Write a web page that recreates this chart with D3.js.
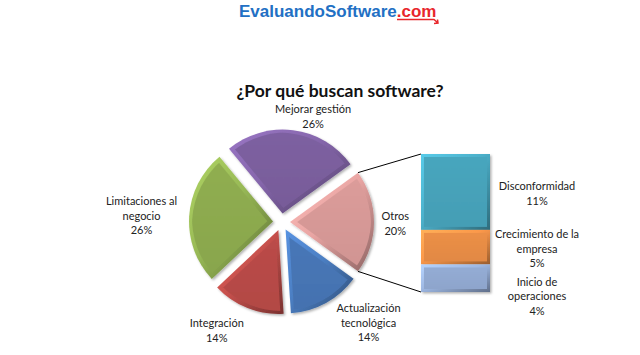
<html>
<head>
  <meta charset="utf-8">
  <title>Por qué buscan software</title>
  <script src="https://cdn.jsdelivr.net/npm/d3@7"></script>
</head>
<style>
  body { margin: 0; background: #fff; }
  svg { display: block; font-family: Lato, "Liberation Sans", sans-serif; }
  .lbl { font-size: 11px; fill: #222; text-anchor: middle; }
  .logo { font-family: "Liberation Sans", Arial, sans-serif; font-weight: bold; font-size: 17px; }
</style>
<body>
  <div id="chart"></div>
</body>
<script>
  // datos del pastel
  const pieNames = [["Otros"], ["Actualización", "tecnológica"], ["Integración"],
                    ["Limitaciones al", "negocio"], ["Mejorar gestión"]];
  const pieValues = [20, 14, 14, 26, 26];
  const pieColors = ["#d99a98", "#4776b6", "#b94b48", "#8eac50", "#7c5f9f"];

  // desglose de "Otros"
  const barNames = [["Disconformidad"], ["Crecimiento de la", "empresa"], ["Inicio de", "operaciones"]];
  const barValues = [11, 5, 4];
  const barColors = ["#47a4bc", "#ea8e46", "#93abd3"];

  let width = 640, height = 355;
  let cx = 281.5, cy = 222, r = 84, explode = 8.5;

  let svg = d3.select("#chart").append("svg")
    .attr("width", width)
    .attr("height", height);

  let defs = svg.append("defs");
  defs.append("filter").attr("id", "erode")
    .append("feMorphology").attr("operator", "erode").attr("radius", 2.5);
  let sh = defs.append("filter").attr("id", "shadow")
    .attr("x", "-20%").attr("y", "-20%").attr("width", "140%").attr("height", "140%");
  sh.append("feDropShadow").attr("dx", 1.5).attr("dy", 1.5).attr("stdDeviation", 1.2)
    .attr("flood-color", "#000").attr("flood-opacity", 0.3);

  function grads(id, c) {
    let base = d3.color(c);
    let rim = defs.append("linearGradient").attr("id", "rim" + id)
      .attr("x1", 0).attr("y1", 0).attr("x2", 1).attr("y2", 1);
    rim.append("stop").attr("offset", 0).attr("stop-color", base.brighter(0.6));
    rim.append("stop").attr("offset", 0.45).attr("stop-color", base.brighter(0.2));
    rim.append("stop").attr("offset", 1).attr("stop-color", base.darker(1.2));
    let main = defs.append("linearGradient").attr("id", "main" + id)
      .attr("x1", 0).attr("y1", 0).attr("x2", 0).attr("y2", 1);
    main.append("stop").attr("offset", 0).attr("stop-color", base.brighter(0.05));
    main.append("stop").attr("offset", 1).attr("stop-color", base.darker(0.1));
  }
  pieColors.forEach((c, i) => grads("p" + i, c));
  barColors.forEach((c, i) => grads("b" + i, c));

  // logo
  let logo = svg.append("text").attr("class", "logo")
    .attr("x", 239).attr("y", 17);
  logo.append("tspan").attr("fill", "#2270c4").text("EvaluandoSoftware");
  logo.append("tspan").attr("fill", "#e8262b").text(".com");
  svg.append("path")
    .attr("d", "M397,19.5 L434,19.5 L438,23 M434,23.5 L438,23 L437.5,19.5")
    .attr("fill", "none").attr("stroke", "#e8262b").attr("stroke-width", 1.5);

  // título
  svg.append("text")
    .attr("x", 340).attr("y", 97)
    .attr("text-anchor", "middle")
    .style("font-weight", "bold").style("font-size", "17.5px").style("fill", "#111")
    .text("¿Por qué buscan software?");

  // pastel
  let pie = d3.pie().sort(null)
    .startAngle(0.3 * Math.PI).endAngle(2.3 * Math.PI);
  let arcs = pie(pieValues);
  let arc = d3.arc().innerRadius(0).outerRadius(r);

  function shift(d, k) {
    let a = (d.startAngle + d.endAngle) / 2;
    return [k * Math.sin(a), -k * Math.cos(a)];
  }

  let g = svg.append("g").attr("transform", `translate(${cx},${cy})`);
  let slices = g.selectAll("g.slice").data(arcs).enter().append("g")
    .attr("class", "slice")
    .attr("filter", "url(#shadow)")
    .attr("transform", d => `translate(${shift(d, explode)})`);
  slices.append("path").attr("d", arc).attr("fill", (d, i) => `url(#rimp${i})`);
  slices.append("path").attr("d", arc).attr("fill", (d, i) => `url(#mainp${i})`)
    .attr("filter", "url(#erode)");

  // etiquetas del pastel (ajuste fino tipo "best fit")
  let nudge = [[0, 2], [22, -6], [-17, 2], [0, 2], [14, 9]];
  let lineH = 14.5;
  arcs.forEach((d, i) => {
    let lines = pieNames[i].concat([pieValues[i] + "%"]);
    let w = d3.max(lines, s => s.length) * 5.3, h = lines.length * lineH;
    let p = shift(d, r + explode + 8);
    let a = (d.startAngle + d.endAngle) / 2;
    let x = cx + p[0] + Math.sin(a) * w / 2 + nudge[i][0];
    let y = cy + p[1] - Math.cos(a) * h / 2 + nudge[i][1];
    let t = svg.append("text").attr("class", "lbl");
    lines.forEach((s, j) => {
      t.append("tspan").attr("x", x)
        .attr("y", y - h / 2 + lineH * (j + 0.75)).text(s);
    });
  });

  // barra apilada de "Otros"
  let bx = 421, bw = 69;
  let y = d3.scaleLinear().domain([0, d3.sum(barValues)]).range([154, 292]);
  let cum = d3.cumsum(barValues);
  let segs = barValues.map((v, i) => ({ y0: cum[i] - v, y1: cum[i], i: i }));

  let bars = svg.append("g").selectAll("g").data(segs).enter().append("g")
    .attr("filter", "url(#shadow)");
  bars.append("rect")
    .attr("x", bx).attr("y", d => y(d.y0))
    .attr("width", bw).attr("height", d => y(d.y1) - y(d.y0))
    .attr("fill", d => `url(#rimb${d.i})`);
  bars.append("rect")
    .attr("x", bx).attr("y", d => y(d.y0))
    .attr("width", bw).attr("height", d => y(d.y1) - y(d.y0))
    .attr("fill", d => `url(#mainb${d.i})`)
    .attr("filter", "url(#erode)");

  // líneas de conexión
  let o = arcs[0];
  let off = shift(o, explode);
  let pTop = [cx + off[0] + r * Math.sin(o.startAngle), cy + off[1] - r * Math.cos(o.startAngle)];
  let pBot = [cx + off[0] + r * Math.sin(o.endAngle), cy + off[1] - r * Math.cos(o.endAngle)];
  svg.append("line").attr("x1", pTop[0]).attr("y1", pTop[1])
    .attr("x2", bx).attr("y2", y(0)).attr("stroke", "#000").attr("stroke-width", 1);
  svg.append("line").attr("x1", pBot[0]).attr("y1", pBot[1])
    .attr("x2", bx).attr("y2", y(d3.sum(barValues))).attr("stroke", "#000").attr("stroke-width", 1);

  // etiquetas de la barra, empujadas hacia abajo si se solapan
  let lastBottom = -Infinity;
  segs.forEach((d, i) => {
    let lines = barNames[i].concat([barValues[i] + "%"]);
    let h = lines.length * lineH;
    let mid = (y(d.y0) + y(d.y1)) / 2 + 2;
    let top = Math.max(mid - h / 2, lastBottom + 4);
    lastBottom = top + h;
    let t = svg.append("text").attr("class", "lbl");
    lines.forEach((s, j) => {
      t.append("tspan").attr("x", bx + bw + 47)
        .attr("y", top + lineH * (j + 0.75)).text(s);
    });
  });
</script>
</html>
